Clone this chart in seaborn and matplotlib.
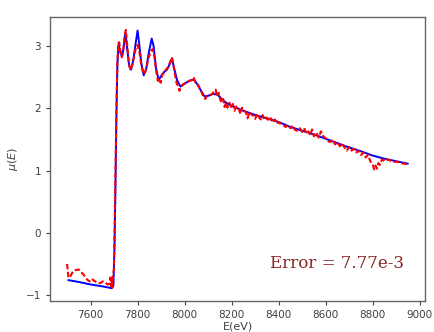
import numpy as np
import pandas as pd
import matplotlib
matplotlib.use("Agg")
import matplotlib.pyplot as plt
import seaborn as sns

# fitted spectrum (blue, solid)
fit_energy = [7505, 7550, 7600, 7650, 7690, 7697, 7702, 7706, 7710, 7714,
              7719, 7726, 7733, 7740, 7748, 7756, 7764, 7772, 7782, 7792,
              7800, 7808, 7816, 7826, 7836, 7848, 7860, 7868, 7878, 7890,
              7900, 7912, 7925, 7938, 7946, 7955, 7968, 7982, 7995, 8010,
              8025, 8040, 8055, 8070, 8085, 8100, 8120, 8140, 8160, 8180,
              8200, 8225, 8250, 8280, 8310, 8350, 8400, 8450, 8500, 8550,
              8600, 8650, 8700, 8750, 8800, 8850, 8900, 8950]
fit_mu = [-0.76, -0.79, -0.83, -0.86, -0.89, -0.85, -0.20, 0.80, 1.90, 2.70,
          3.03, 2.92, 2.83, 2.95, 3.22, 2.95, 2.68, 2.62, 2.78, 3.05,
          3.25, 3.00, 2.72, 2.53, 2.62, 2.90, 3.12, 3.00, 2.65, 2.45,
          2.52, 2.58, 2.62, 2.72, 2.80, 2.65, 2.45, 2.35, 2.38, 2.42,
          2.45, 2.46, 2.38, 2.28, 2.19, 2.20, 2.23, 2.22, 2.14, 2.08,
          2.04, 2.00, 1.96, 1.92, 1.88, 1.84, 1.78, 1.70, 1.64, 1.58,
          1.51, 1.44, 1.37, 1.31, 1.24, 1.19, 1.15, 1.11]

# measured spectrum (red, dashed)
exp_energy = [7500, 7506, 7514, 7525, 7535, 7550, 7562, 7572, 7585, 7595,
              7605, 7615, 7628, 7640, 7652, 7662, 7672, 7680, 7684, 7687,
              7690, 7693, 7696, 7699, 7702, 7706, 7710, 7714, 7718, 7722,
              7727, 7733, 7738, 7744, 7750, 7756, 7763, 7770, 7778, 7786,
              7793, 7800, 7808, 7816, 7826, 7836, 7846, 7856, 7864, 7872,
              7880, 7886, 7892, 7898, 7905, 7912, 7920, 7930, 7940, 7946,
              7952, 7960, 7966, 7972, 7978, 7985, 7992, 8000, 8010, 8020,
              8030, 8038, 8045, 8052, 8060, 8066, 8072, 8080, 8088, 8095,
              8105, 8115, 8125, 8132, 8138, 8145, 8152, 8158, 8164, 8170,
              8176, 8182, 8190, 8198, 8205, 8212, 8220, 8230, 8238, 8244,
              8252, 8260, 8268, 8276, 8284, 8292, 8300, 8308, 8316, 8324,
              8332, 8340, 8350, 8358, 8366, 8375, 8384, 8392, 8400, 8410,
              8420, 8430, 8440, 8450, 8460, 8470, 8480, 8490, 8500, 8510,
              8518, 8526, 8534, 8542, 8550, 8560, 8570, 8580, 8590, 8600,
              8610, 8620, 8630, 8640, 8650, 8660, 8670, 8680, 8690, 8700,
              8710, 8720, 8730, 8740, 8750, 8760, 8770, 8780, 8790, 8800,
              8806, 8812, 8818, 8824, 8830, 8840, 8850, 8860, 8875, 8890,
              8905, 8920, 8935, 8950]
exp_mu = [-0.50, -0.72, -0.70, -0.62, -0.60, -0.59, -0.64, -0.68, -0.75, -0.78,
          -0.74, -0.77, -0.80, -0.81, -0.78, -0.80, -0.83, -0.82, -0.72, -0.86,
          -0.70, -0.88, -0.65, -0.60, 0.00, 1.00, 2.00, 2.75, 3.05, 3.06,
          2.90, 2.82, 2.90, 3.15, 3.26, 3.00, 2.72, 2.61, 2.70, 2.85,
          2.98, 3.02, 2.90, 2.68, 2.55, 2.62, 2.80, 2.92, 2.95, 2.82,
          2.58, 2.44, 2.48, 2.41, 2.55, 2.56, 2.62, 2.66, 2.76, 2.82,
          2.70, 2.52, 2.40, 2.36, 2.28, 2.35, 2.38, 2.40, 2.42, 2.44,
          2.45, 2.50, 2.42, 2.40, 2.36, 2.30, 2.26, 2.18, 2.15, 2.20,
          2.21, 2.22, 2.27, 2.30, 2.19, 2.25, 2.13, 2.10, 2.15, 2.02,
          2.09, 2.01, 2.09, 2.02, 2.07, 1.96, 2.03, 1.99, 1.91, 2.01,
          1.96, 1.94, 1.84, 1.94, 1.90, 1.88, 1.83, 1.91, 1.86, 1.82,
          1.89, 1.81, 1.85, 1.79, 1.84, 1.77, 1.82, 1.75, 1.78, 1.74,
          1.73, 1.70, 1.73, 1.68, 1.72, 1.65, 1.64, 1.68, 1.62, 1.67,
          1.59, 1.63, 1.57, 1.66, 1.55, 1.61, 1.53, 1.63, 1.55, 1.52,
          1.47, 1.46, 1.50, 1.42, 1.46, 1.39, 1.43, 1.37, 1.32, 1.38,
          1.32, 1.35, 1.29, 1.32, 1.25, 1.29, 1.21, 1.25, 1.15, 1.10,
          1.02, 1.08, 1.03, 1.12, 1.09, 1.18, 1.15, 1.18, 1.16, 1.14,
          1.14, 1.12, 1.11, 1.10]

error_label = "Error = 7.77e-3"

fit_df = pd.DataFrame({"E": fit_energy, "mu": fit_mu})
exp_df = pd.DataFrame({"E": exp_energy, "mu": exp_mu})

sns.set_style("ticks")
plt.rcParams["font.family"] = ["DejaVu Sans"]

fig = plt.figure(figsize=(4.35, 3.32), dpi=100)
ax = fig.add_axes([0.115, 0.093, 0.862, 0.856])

sns.lineplot(data=fit_df, x="E", y="mu", color="blue", linewidth=1.4, ax=ax)
sns.lineplot(data=exp_df, x="E", y="mu", color="red", linewidth=1.5,
             linestyle=(0, (2.6, 1.2)), ax=ax)

ax.set_xticks([7600, 7800, 8000, 8200, 8400, 8600, 8800, 9000])
ax.set_yticks([-1, 0, 1, 2, 3])
ax.margins(x=0.05, y=0.05)
ax.tick_params(labelsize=7.5, colors="0.25", length=3, width=0.8)
ax.set_xlabel("E(eV)", fontsize=8, color="0.25", labelpad=1)
ax.set_ylabel(r"$\mu(E)$", fontsize=8, color="0.25", labelpad=4)
for s in ax.spines.values():
    s.set_visible(True)
    s.set_color("0.4")
    s.set_linewidth(1.0)

ax.text(8362, -0.49, error_label, fontsize=12, family="DejaVu Serif",
        color="#8b2323", va="center", ha="left")

fig.savefig("out.png", dpi=100)
